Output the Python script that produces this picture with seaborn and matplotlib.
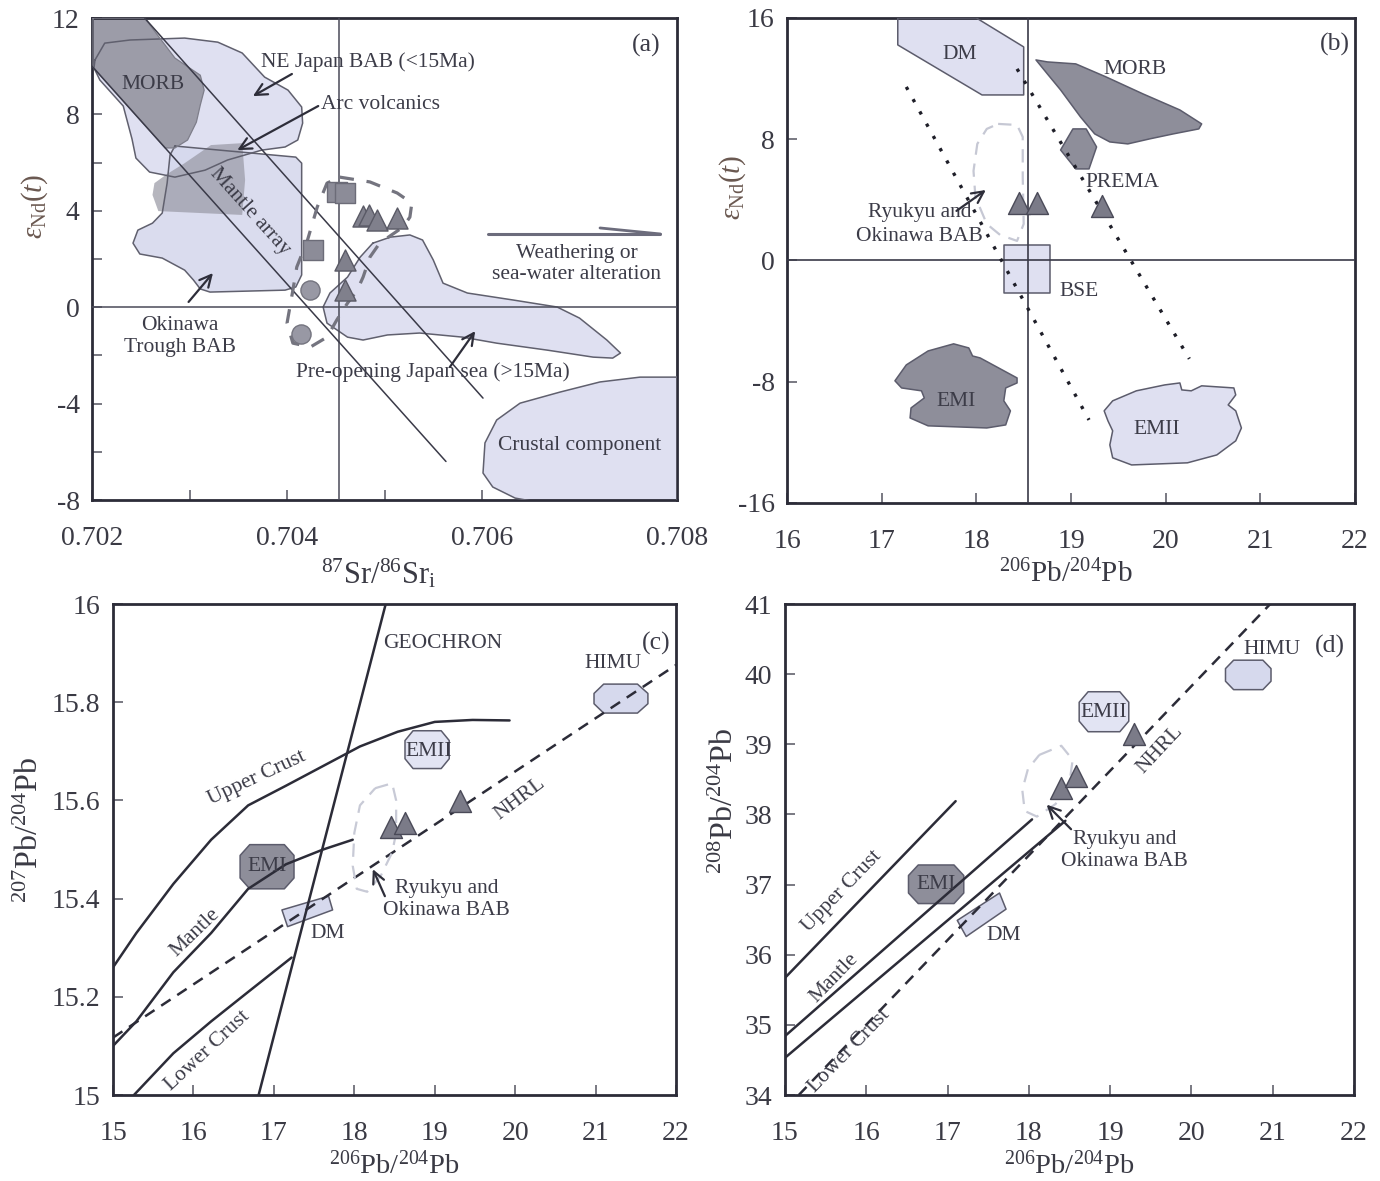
import matplotlib
matplotlib.use("Agg")
import matplotlib.pyplot as plt
import seaborn as sns
import numpy as np
import pandas as pd
from matplotlib.patches import Polygon
from matplotlib.ticker import FixedLocator, FixedFormatter

# ======================= DATA =======================
# ---- panel (a): eNd(t) vs 87Sr/86Sr ----
a_ne_japan_x = [0.70203, 0.70213, 0.70239, 0.70295, 0.70329, 0.70354, 0.70377, 0.70401, 0.70415, 0.70416,
                0.70411, 0.70398, 0.70374, 0.70339, 0.70316, 0.70285, 0.70259, 0.70245, 0.70241, 0.70232,
                0.70208, 0.70202]
a_ne_japan_y = [10.26, 10.96, 11.09, 11.17, 11.0, 10.55, 9.55, 9.01, 8.31, 7.64,
                6.94, 6.65, 6.52, 6.11, 5.69, 5.40, 5.61, 6.19, 6.98, 8.35,
                9.43, 9.93]
a_morb_x = [0.70201, 0.70254, 0.70285, 0.70311, 0.70315, 0.70311, 0.70307, 0.70298, 0.70285, 0.70275, 0.70201]
a_morb_y = [12.0, 12.0, 10.34, 9.63, 9.01, 8.39, 7.68, 6.94, 6.61, 6.61, 9.97]
a_arc_x = [0.70322, 0.70354, 0.70357, 0.70354, 0.70268, 0.70262, 0.70264, 0.70277, 0.70295]
a_arc_y = [6.73, 6.81, 5.28, 3.83, 3.99, 4.66, 5.15, 5.53, 5.98]
a_okinawa_x = [0.70285, 0.70409, 0.70415, 0.70415, 0.70409, 0.70398, 0.70321, 0.70311, 0.70304, 0.70295,
               0.70272, 0.70249, 0.70242, 0.70247, 0.70262, 0.70272, 0.70277, 0.70280]
a_okinawa_y = [6.69, 6.23, 5.98, 1.34, 0.84, 0.71, 0.63, 0.76, 1.13, 1.54,
               2.04, 2.21, 2.66, 3.20, 3.49, 3.91, 5.15, 6.32]
a_preopen_x = [0.70488, 0.70506, 0.70526, 0.70539, 0.70550, 0.70560, 0.70585, 0.70632, 0.70677, 0.70700,
               0.70728, 0.70742, 0.70734, 0.70714, 0.70667, 0.70615, 0.70580, 0.70536, 0.70503, 0.70478,
               0.70462, 0.70441, 0.70437, 0.70444, 0.70462, 0.70475]
a_preopen_y = [2.66, 2.91, 3.00, 2.79, 1.96, 1.00, 0.59, 0.30, 0.01, -0.45,
               -1.36, -1.90, -2.11, -2.07, -1.78, -1.49, -1.24, -1.07, -1.15, -1.36,
               -1.24, -0.66, 0.01, 0.59, 1.25, 2.08]
a_crust_x = [0.70800, 0.70762, 0.70721, 0.70680, 0.70639, 0.70615, 0.70603, 0.70601, 0.70611, 0.70634, 0.70659, 0.70800]
a_crust_y = [-2.90, -2.90, -3.10, -3.52, -3.98, -4.68, -5.63, -6.88, -7.46, -7.92, -8.1, -8.1]
a_sample_field_x = [0.70454, 0.70485, 0.70513, 0.70528, 0.70526, 0.70519, 0.70495, 0.70485, 0.70478, 0.70472,
                    0.70462, 0.70451, 0.70441, 0.70424, 0.70406, 0.70400, 0.70406, 0.70410, 0.70421, 0.70431,
                    0.70441, 0.70454]
a_sample_field_y = [5.40, 5.20, 4.74, 4.32, 3.74, 3.33, 2.66, 2.08, 1.25, 0.71,
                    0.17, -0.53, -1.24, -1.65, -1.49, -0.66, 0.71, 1.67, 2.79, 4.16,
                    5.15, 5.40]
a_mantle_upper_x = [0.70254, 0.70601]
a_mantle_upper_y = [12.0, -3.77]
a_mantle_lower_x = [0.70200, 0.70563]
a_mantle_lower_y = [10.0, -6.40]
a_bse_sr = 0.70453
a_square_x = [0.70451, 0.70459, 0.70427]
a_square_y = [4.78, 4.74, 2.37]
a_circle_x = [0.70424, 0.70414]
a_circle_y = [0.71, -1.11]
a_tri_x = [0.70478, 0.70484, 0.70492, 0.70513, 0.70459, 0.70459]
a_tri_y = [3.78, 3.83, 3.62, 3.70, 1.96, 0.71]
a_weather_x = [0.70606, 0.70783]
a_weather_y = [3.04, 3.04]
a_weather_barb_x = [0.70721, 0.70783]
a_weather_barb_y = [3.29, 3.04]

# ---- panel (b): eNd(t) vs 206Pb/204Pb ----
b_dm_x = [17.17, 18.0, 18.50, 18.50, 18.06, 17.17]
b_dm_y = [16.0, 16.0, 14.09, 10.92, 10.92, 14.22]
b_morb_x = [18.63, 18.75, 19.05, 19.37, 19.76, 20.15, 20.38, 20.35, 20.08, 19.83, 19.60, 19.41, 19.25, 19.10, 18.89, 18.75]
b_morb_y = [13.23, 13.10, 12.97, 12.11, 10.99, 9.93, 9.01, 8.68, 8.35, 8.02, 7.69, 7.82, 8.35, 9.47, 11.25, 12.31]
b_prema_x = [19.02, 19.16, 19.27, 19.19, 19.05, 18.89]
b_prema_y = [8.68, 8.68, 7.49, 6.04, 6.04, 7.29]
b_bse_x = [18.29, 18.78, 18.78, 18.29]
b_bse_y = [1.0, 1.0, -2.12, -2.12]
b_emi_x = [17.14, 17.26, 17.49, 17.76, 17.92, 17.96, 18.04, 18.43, 18.43, 18.31, 18.29, 18.36, 18.31, 18.11,
           17.49, 17.30, 17.31, 17.45, 17.42, 17.21]
b_emi_y = [-7.94, -6.89, -5.97, -5.50, -5.77, -6.30, -6.43, -7.75, -8.08, -8.41, -9.26, -9.92, -10.85, -11.05,
           -10.91, -10.39, -9.73, -9.07, -8.60, -8.41]
b_emii_x = [19.35, 19.44, 19.69, 19.99, 20.15, 20.17, 20.27, 20.38, 20.72, 20.74, 20.66, 20.74, 20.80, 20.74,
            20.54, 20.23, 19.64, 19.44, 19.41, 19.44, 19.39]
b_emii_y = [-9.92, -9.26, -8.60, -8.21, -8.08, -8.54, -8.60, -8.27, -8.41, -8.87, -9.53, -9.92, -11.05, -11.90,
            -12.83, -13.35, -13.49, -13.02, -12.17, -11.24, -10.58]
b_ryukyu_x = [18.23, 18.43, 18.49, 18.49, 18.50, 18.43, 18.25, 18.11, 17.99, 17.97, 18.01, 18.11, 18.23]
b_ryukyu_y = [9.01, 8.94, 8.15, 5.51, 2.41, 1.29, 1.69, 2.41, 4.19, 5.91, 7.69, 8.68, 9.01]
b_dot_left_x = [17.26, 19.19]
b_dot_left_y = [11.45, -10.52]
b_dot_right_x = [18.43, 20.25]
b_dot_right_y = [12.64, -6.49]
b_bse_pb = 18.55
b_tri_x = [18.45, 18.64, 19.33]
b_tri_y = [3.8, 3.8, 3.6]

# ---- panel (c): 207Pb/204Pb vs 206Pb/204Pb ----
c_upper_x = [15.0, 15.29, 15.75, 16.22, 16.68, 17.15, 17.61, 18.07, 18.54, 19.0, 19.47, 19.93]
c_upper_y = [15.26, 15.33, 15.43, 15.52, 15.59, 15.63, 15.67, 15.71, 15.74, 15.76, 15.764, 15.763]
c_mantle_x = [15.0, 15.29, 15.75, 16.22, 16.68, 17.15, 17.61, 17.98]
c_mantle_y = [15.10, 15.15, 15.25, 15.33, 15.42, 15.47, 15.50, 15.52]
c_lower_x = [15.26, 15.75, 16.22, 16.68, 17.22]
c_lower_y = [15.0, 15.085, 15.15, 15.21, 15.28]
c_geochron_x = [16.81, 18.39]
c_geochron_y = [15.0, 16.0]
c_nhrl_x = [15.0, 22.0]
c_nhrl_y = [15.117, 15.876]
c_himu_x = [21.10, 21.52, 21.65, 21.65, 21.52, 21.10, 20.98, 20.98]
c_himu_y = [15.837, 15.837, 15.818, 15.797, 15.778, 15.778, 15.797, 15.818]
c_emii_x = [18.73, 19.08, 19.18, 19.18, 19.08, 18.73, 18.63, 18.63]
c_emii_y = [15.742, 15.742, 15.722, 15.685, 15.665, 15.665, 15.685, 15.722]
c_emi_x = [16.70, 17.13, 17.25, 17.25, 17.13, 16.70, 16.58, 16.58]
c_emi_y = [15.51, 15.51, 15.488, 15.442, 15.42, 15.42, 15.442, 15.488]
c_dm_x = [17.10, 17.68, 17.73, 17.17]
c_dm_y = [15.377, 15.405, 15.377, 15.343]
c_ryukyu_x = [18.26, 18.47, 18.52, 18.52, 18.47, 18.33, 18.16, 18.03, 17.98, 18.0, 18.07, 18.26]
c_ryukyu_y = [15.625, 15.635, 15.60, 15.534, 15.494, 15.447, 15.414, 15.42, 15.467, 15.534, 15.59, 15.625]
c_tri_x = [18.45, 18.63, 19.32]
c_tri_y = [15.545, 15.555, 15.598]

# ---- panel (d): 208Pb/204Pb vs 206Pb/204Pb ----
d_upper_x = [15.0, 17.10]
d_upper_y = [35.67, 38.19]
d_mantle_x = [15.0, 18.04]
d_mantle_y = [34.84, 37.93]
d_lower_x = [15.0, 18.45]
d_lower_y = [34.53, 37.91]
d_nhrl_x = [15.17, 20.97]
d_nhrl_y = [34.0, 41.0]
d_himu_x = [20.52, 20.88, 20.98, 20.98, 20.88, 20.52, 20.42, 20.42]
d_himu_y = [40.2, 40.2, 40.08, 39.9, 39.78, 39.78, 39.9, 40.08]
d_emii_x = [18.73, 19.12, 19.23, 19.23, 19.12, 18.73, 18.62, 18.62]
d_emii_y = [39.75, 39.75, 39.6, 39.33, 39.18, 39.18, 39.33, 39.6]
d_emi_x = [16.64, 17.08, 17.2, 17.2, 17.08, 16.64, 16.52, 16.52]
d_emi_y = [37.28, 37.28, 37.13, 36.88, 36.73, 36.73, 36.88, 37.13]
d_dm_x = [17.12, 17.64, 17.72, 17.23]
d_dm_y = [36.49, 36.88, 36.65, 36.26]
d_ryukyu_x = [18.13, 18.40, 18.54, 18.50, 18.33, 18.10, 17.95, 17.92, 17.99, 18.13]
d_ryukyu_y = [38.85, 38.98, 38.78, 38.45, 38.15, 37.97, 38.05, 38.35, 38.65, 38.85]
d_tri_x = [18.40, 18.58, 19.30]
d_tri_y = [38.38, 38.55, 39.15]

# ======================= STYLE =======================
sns.set_theme(style="ticks")
FONT = ["Liberation Serif", "DejaVu Serif"]
plt.rcParams["font.family"] = FONT
plt.rcParams["mathtext.fontset"] = "custom"
plt.rcParams["mathtext.rm"] = "Liberation Serif"
plt.rcParams["mathtext.it"] = "Liberation Serif:italic"
plt.rcParams["mathtext.bf"] = "Liberation Serif:bold"
plt.rcParams["axes.unicode_minus"] = False

LIGHT = "#dfe0f1"
LIGHT2 = "#d6d9ed"
DARK = "#8e8e9a"
EDGE = "#5c5c6c"
TXT = "#3c3c48"
FRAME = "#2c2c38"
LAB = "#6a5850"

TICK_FS = 20
LABEL_FS = 21
TEXT_FS = 15.5

fig = plt.figure(figsize=(13.8, 11.81), dpi=100)
axA = fig.add_axes([0.0667, 0.5766, 0.4239, 0.4081])
axB = fig.add_axes([0.5703, 0.5741, 0.4116, 0.4107])
axC = fig.add_axes([0.0819, 0.0728, 0.4080, 0.4157])
axD = fig.add_axes([0.5688, 0.0728, 0.4123, 0.4157])


def frame(ax, xpad=19):
    for s in ax.spines.values():
        s.set_visible(True)
        s.set_linewidth(2.0)
        s.set_color(FRAME)
    ax.tick_params(which="both", direction="in", length=7, width=1.1, color="#555560",
                   labelsize=TICK_FS, labelcolor="#3a3a44")
    ax.tick_params(axis="x", which="both", pad=xpad)
    ax.tick_params(axis="y", which="both", pad=9)
    ax.grid(False)


def fill_field(ax, xs, ys, fc, ec=EDGE, lw=1.1, alpha=1.0, z=2, edge=True):
    ax.add_patch(Polygon(np.column_stack([xs, ys]), closed=True, facecolor=fc,
                         edgecolor="none", alpha=alpha, zorder=z))
    if edge:
        ax.add_patch(Polygon(np.column_stack([xs, ys]), closed=True, facecolor="none",
                             edgecolor=ec, lw=lw, joinstyle="round", zorder=z + 4))


def line(ax, xs, ys, color=FRAME, lw=1.6, ls="-", z=6):
    sns.lineplot(x=xs, y=ys, ax=ax, color=color, lw=lw, linestyle=ls, sort=False,
                 estimator=None, zorder=z, legend=False)


def closed(xs, ys):
    return list(xs) + [xs[0]], list(ys) + [ys[0]]


def txt(ax, x, y, s, size=TEXT_FS, rot=0, ha="center", color=TXT):
    ax.text(x, y, s, fontsize=size, rotation=rot, ha=ha, va="center", color=color,
            rotation_mode="anchor", zorder=20)


def arrow(ax, tail, head, color="#2e2e3a", lw=1.6):
    ax.annotate("", xy=head, xytext=tail, zorder=21,
                arrowprops=dict(arrowstyle="->,head_length=0.7,head_width=0.35", color=color, lw=lw,
                                shrinkA=0, shrinkB=0))


def tri(ax, xs, ys, s=210, fc="#7b7b88", ec="#4a4a58"):
    sns.scatterplot(x=xs, y=ys, ax=ax, marker="^", s=s, color=fc, edgecolor=ec, linewidth=1.0,
                    zorder=15, legend=False)


# ======================= PANEL (a) =======================
ax = axA
ax.set_xlim(0.702, 0.708)
ax.set_ylim(-8, 12)
fill_field(ax, a_ne_japan_x, a_ne_japan_y, LIGHT, z=1, edge=False)
fill_field(ax, a_morb_x, a_morb_y, "#9c9ca8", z=2, edge=False)
fill_field(ax, a_okinawa_x, a_okinawa_y, LIGHT2, alpha=0.9, z=2, edge=False)
fill_field(ax, a_arc_x, a_arc_y, "#9a9aa6", alpha=0.72, z=3, edge=False)
fill_field(ax, a_preopen_x, a_preopen_y, LIGHT, z=2, edge=False)
fill_field(ax, a_crust_x, a_crust_y, LIGHT, z=2, edge=False)
for xs, ys in [(a_ne_japan_x, a_ne_japan_y), (a_okinawa_x, a_okinawa_y),
               (a_preopen_x, a_preopen_y), (a_crust_x, a_crust_y)]:
    cx, cy = closed(xs, ys)
    line(ax, cx, cy, color="#60606e", lw=1.1, z=7)
cx, cy = closed(a_morb_x, a_morb_y)
line(ax, cx, cy, color="#7e7e8a", lw=0.9, z=7)

ax.axhline(0, color="#4a4a58", lw=1.1, zorder=8)
ax.axvline(a_bse_sr, color="#4a4a58", lw=1.1, zorder=8)
line(ax, a_mantle_upper_x, a_mantle_upper_y, color="#3a3a48", lw=1.1, z=8)
line(ax, a_mantle_lower_x, a_mantle_lower_y, color="#3a3a48", lw=1.1, z=8)
line(ax, a_sample_field_x, a_sample_field_y, color="#74747f", lw=2.3, ls=(0, (4.5, 4)), z=9)

sns.scatterplot(x=a_square_x, y=a_square_y, ax=ax, marker="s", s=190, color="#8c8c98",
                edgecolor="#6c6c78", linewidth=1.0, zorder=15, legend=False)
sns.scatterplot(x=a_circle_x, y=a_circle_y, ax=ax, marker="o", s=190, color="#9898a4",
                edgecolor="#74747f", linewidth=1.0, zorder=15, legend=False)
tri(ax, a_tri_x, a_tri_y, s=230, fc="#80808c", ec="#5a5a66")

line(ax, a_weather_x, a_weather_y, color="#6c6c7c", lw=2.2, z=10)
line(ax, a_weather_barb_x, a_weather_barb_y, color="#6c6c7c", lw=2.0, z=10)

txt(ax, 0.70768, 10.88, "(a)", size=18.5)
txt(ax, 0.70263, 9.26, "MORB")
txt(ax, 0.70483, 10.17, "NE Japan BAB (<15Ma)")
arrow(ax, (0.70405, 9.68), (0.70365, 8.76))
txt(ax, 0.70496, 8.43, "Arc volcanics")
arrow(ax, (0.70432, 8.35), (0.70349, 6.52))
txt(ax, 0.70362, 3.95, "Mantle array", rot=-48)
txt(ax, 0.7029, -0.74, "Okinawa")
txt(ax, 0.7029, -1.69, "Trough BAB")
arrow(ax, (0.70299, 0.22), (0.70324, 1.42))
txt(ax, 0.70697, 2.25, "Weathering or")
txt(ax, 0.70697, 1.34, "sea-water alteration")
txt(ax, 0.7055, -2.69, "Pre-opening Japan sea (>15Ma)")
arrow(ax, (0.70567, -2.48), (0.70593, -0.99))
txt(ax, 0.70700, -5.72, "Crustal component")

ax.xaxis.set_major_locator(FixedLocator([0.702, 0.704, 0.706, 0.708]))
ax.xaxis.set_major_formatter(FixedFormatter(["0.702", "0.704", "0.706", "0.708"]))
ax.xaxis.set_minor_locator(FixedLocator([0.703, 0.705, 0.707]))
ax.yaxis.set_major_locator(FixedLocator([-8, -4, 0, 4, 8, 12]))
ax.yaxis.set_major_formatter(FixedFormatter(["-8", "-4", "0", "4", "8", "12"]))
ax.yaxis.set_minor_locator(FixedLocator([-6, -2, 2, 6, 10]))
frame(ax)
ax.set_xlabel(r"$^{87}\mathrm{Sr}/^{86}\mathrm{Sr}_{\mathrm{i}}$", fontsize=LABEL_FS + 1, color="#3a3a44")
ax.set_ylabel(r"$\varepsilon_{\mathrm{Nd}}(t)$", fontsize=LABEL_FS, color=LAB)
ax.xaxis.set_label_coords(0.49, -0.118)
ax.yaxis.set_label_coords(-0.072, 0.61)

# ======================= PANEL (b) =======================
ax = axB
ax.set_xlim(16, 22)
ax.set_ylim(-16, 16)
fill_field(ax, b_dm_x, b_dm_y, LIGHT, z=2)
fill_field(ax, b_morb_x, b_morb_y, DARK, z=2)
fill_field(ax, b_prema_x, b_prema_y, DARK, z=2)
fill_field(ax, b_bse_x, b_bse_y, LIGHT, z=2)
fill_field(ax, b_emi_x, b_emi_y, DARK, z=2)
fill_field(ax, b_emii_x, b_emii_y, LIGHT, z=2)
ax.axhline(0, color="#3a3a48", lw=1.2, zorder=8)
ax.axvline(b_bse_pb, color="#3a3a48", lw=1.2, zorder=8)
line(ax, b_ryukyu_x, b_ryukyu_y, color="#c6c8d4", lw=1.6, ls=(0, (6, 4)), z=9)
line(ax, b_dot_left_x, b_dot_left_y, color="#1e1e28", lw=2.4, ls=(0, (1, 3.2)), z=10)
line(ax, b_dot_right_x, b_dot_right_y, color="#1e1e28", lw=2.4, ls=(0, (1, 3.2)), z=10)
tri(ax, b_tri_x, b_tri_y, s=250)

txt(ax, 21.79, 14.22, "(b)", size=18.5)
txt(ax, 17.82, 13.56, "DM")
txt(ax, 19.68, 12.57, "MORB")
txt(ax, 19.54, 5.12, "PREMA")
txt(ax, 17.40, 3.14, "Ryukyu and")
txt(ax, 17.40, 1.55, "Okinawa BAB")
arrow(ax, (17.79, 3.27), (18.10, 4.65))
txt(ax, 19.09, -2.07, "BSE")
txt(ax, 17.79, -9.33, "EMI")
txt(ax, 19.91, -11.18, "EMII")

ax.xaxis.set_major_locator(FixedLocator([16, 17, 18, 19, 20, 21, 22]))
ax.xaxis.set_major_formatter(FixedFormatter(["16", "17", "18", "19", "20", "21", "22"]))
ax.yaxis.set_major_locator(FixedLocator([-16, -8, 0, 8, 16]))
ax.yaxis.set_major_formatter(FixedFormatter(["-16", "-8", "0", "8", "16"]))
frame(ax)
ax.set_xlabel(r"$^{206}\mathrm{Pb}/^{204}\mathrm{Pb}$", fontsize=LABEL_FS, color="#3a3a44")
ax.set_ylabel(r"$\varepsilon_{\mathrm{Nd}}(t)$", fontsize=LABEL_FS, color=LAB)
ax.xaxis.set_label_coords(0.49, -0.118)
ax.yaxis.set_label_coords(-0.069, 0.65)

# ======================= PANEL (c) =======================
ax = axC
ax.set_xlim(15, 22)
ax.set_ylim(15, 16)
fill_field(ax, c_himu_x, c_himu_y, LIGHT2, z=2)
fill_field(ax, c_emii_x, c_emii_y, "#e2e4f3", z=2)
fill_field(ax, c_emi_x, c_emi_y, DARK, z=2)
fill_field(ax, c_dm_x, c_dm_y, LIGHT2, z=2)
line(ax, c_upper_x, c_upper_y, lw=1.8)
line(ax, c_mantle_x, c_mantle_y, lw=1.8)
line(ax, c_lower_x, c_lower_y, lw=1.8)
line(ax, c_geochron_x, c_geochron_y, lw=1.8)
line(ax, c_nhrl_x, c_nhrl_y, lw=1.8, ls=(0, (4.5, 3.2)))
line(ax, c_ryukyu_x, c_ryukyu_y, color="#c8cad6", lw=1.6, ls=(0, (6, 4)), z=9)
tri(ax, c_tri_x, c_tri_y, s=250)

txt(ax, 21.75, 15.92, "(c)", size=18.5)
txt(ax, 19.1, 15.92, "GEOCHRON")
txt(ax, 21.22, 15.878, "HIMU")
txt(ax, 16.79, 15.646, "Upper Crust", rot=25)
txt(ax, 16.02, 15.33, "Mantle", rot=44)
txt(ax, 16.18, 15.09, "Lower Crust", rot=43)
txt(ax, 20.06, 15.603, "NHRL", rot=37)
txt(ax, 17.67, 15.33, "DM")
txt(ax, 18.92, 15.70, "EMII")
txt(ax, 16.92, 15.465, "EMI")
txt(ax, 19.15, 15.42, "Ryukyu and")
txt(ax, 19.15, 15.375, "Okinawa BAB")
arrow(ax, (18.38, 15.405), (18.23, 15.46))

ax.xaxis.set_major_locator(FixedLocator([15, 16, 17, 18, 19, 20, 21, 22]))
ax.xaxis.set_major_formatter(FixedFormatter(["15", "16", "17", "18", "19", "20", "21", "22"]))
ax.yaxis.set_major_locator(FixedLocator([15, 15.2, 15.4, 15.6, 15.8, 16]))
ax.yaxis.set_major_formatter(FixedFormatter(["15", "15.2", "15.4", "15.6", "15.8", "16"]))
frame(ax, xpad=19)
ax.set_xlabel(r"$^{206}\mathrm{Pb}/^{204}\mathrm{Pb}$", fontsize=LABEL_FS - 0.5, color="#3a3a44")
ax.set_ylabel(r"$^{207}\mathrm{Pb}/^{204}\mathrm{Pb}$", fontsize=LABEL_FS + 2, color="#3a3a44")
ax.xaxis.set_label_coords(0.5, -0.114)
ax.yaxis.set_label_coords(-0.12, 0.54)

# ======================= PANEL (d) =======================
ax = axD
ax.set_xlim(15, 22)
ax.set_ylim(34, 41)
fill_field(ax, d_himu_x, d_himu_y, LIGHT2, z=2)
fill_field(ax, d_emii_x, d_emii_y, "#e2e4f3", z=2)
fill_field(ax, d_emi_x, d_emi_y, DARK, z=2)
fill_field(ax, d_dm_x, d_dm_y, LIGHT2, z=2)
line(ax, d_upper_x, d_upper_y, lw=1.8)
line(ax, d_mantle_x, d_mantle_y, lw=1.8)
line(ax, d_lower_x, d_lower_y, lw=1.8)
line(ax, d_nhrl_x, d_nhrl_y, lw=1.8, ls=(0, (4.5, 3.2)))
line(ax, d_ryukyu_x, d_ryukyu_y, color="#c8cad6", lw=1.6, ls=(0, (6, 4)), z=9)
tri(ax, d_tri_x, d_tri_y, s=250)

txt(ax, 21.70, 40.4, "(d)", size=18.5)
txt(ax, 20.99, 40.35, "HIMU")
txt(ax, 19.62, 38.93, "NHRL", rot=47)
txt(ax, 15.70, 36.9, "Upper Crust", rot=46)
txt(ax, 15.61, 35.67, "Mantle", rot=46)
txt(ax, 15.79, 34.63, "Lower Crust", rot=46)
txt(ax, 17.69, 36.28, "DM")
txt(ax, 18.92, 39.46, "EMII")
txt(ax, 16.86, 37.0, "EMI")
txt(ax, 19.18, 37.65, "Ryukyu and")
txt(ax, 19.18, 37.33, "Okinawa BAB")
arrow(ax, (18.52, 37.79), (18.22, 38.14))

ax.xaxis.set_major_locator(FixedLocator([15, 16, 17, 18, 19, 20, 21, 22]))
ax.xaxis.set_major_formatter(FixedFormatter(["15", "16", "17", "18", "19", "20", "21", "22"]))
ax.yaxis.set_major_locator(FixedLocator([34, 35, 36, 37, 38, 39, 40, 41]))
ax.yaxis.set_major_formatter(FixedFormatter(["34", "35", "36", "37", "38", "39", "40", "41"]))
frame(ax, xpad=19)
ax.set_xlabel(r"$^{206}\mathrm{Pb}/^{204}\mathrm{Pb}$", fontsize=LABEL_FS - 0.5, color="#3a3a44")
ax.set_ylabel(r"$^{208}\mathrm{Pb}/^{204}\mathrm{Pb}$", fontsize=LABEL_FS + 2, color="#3a3a44")
ax.xaxis.set_label_coords(0.5, -0.114)
ax.yaxis.set_label_coords(-0.079, 0.6)

fig.savefig("out.png", dpi=100, facecolor="white")
